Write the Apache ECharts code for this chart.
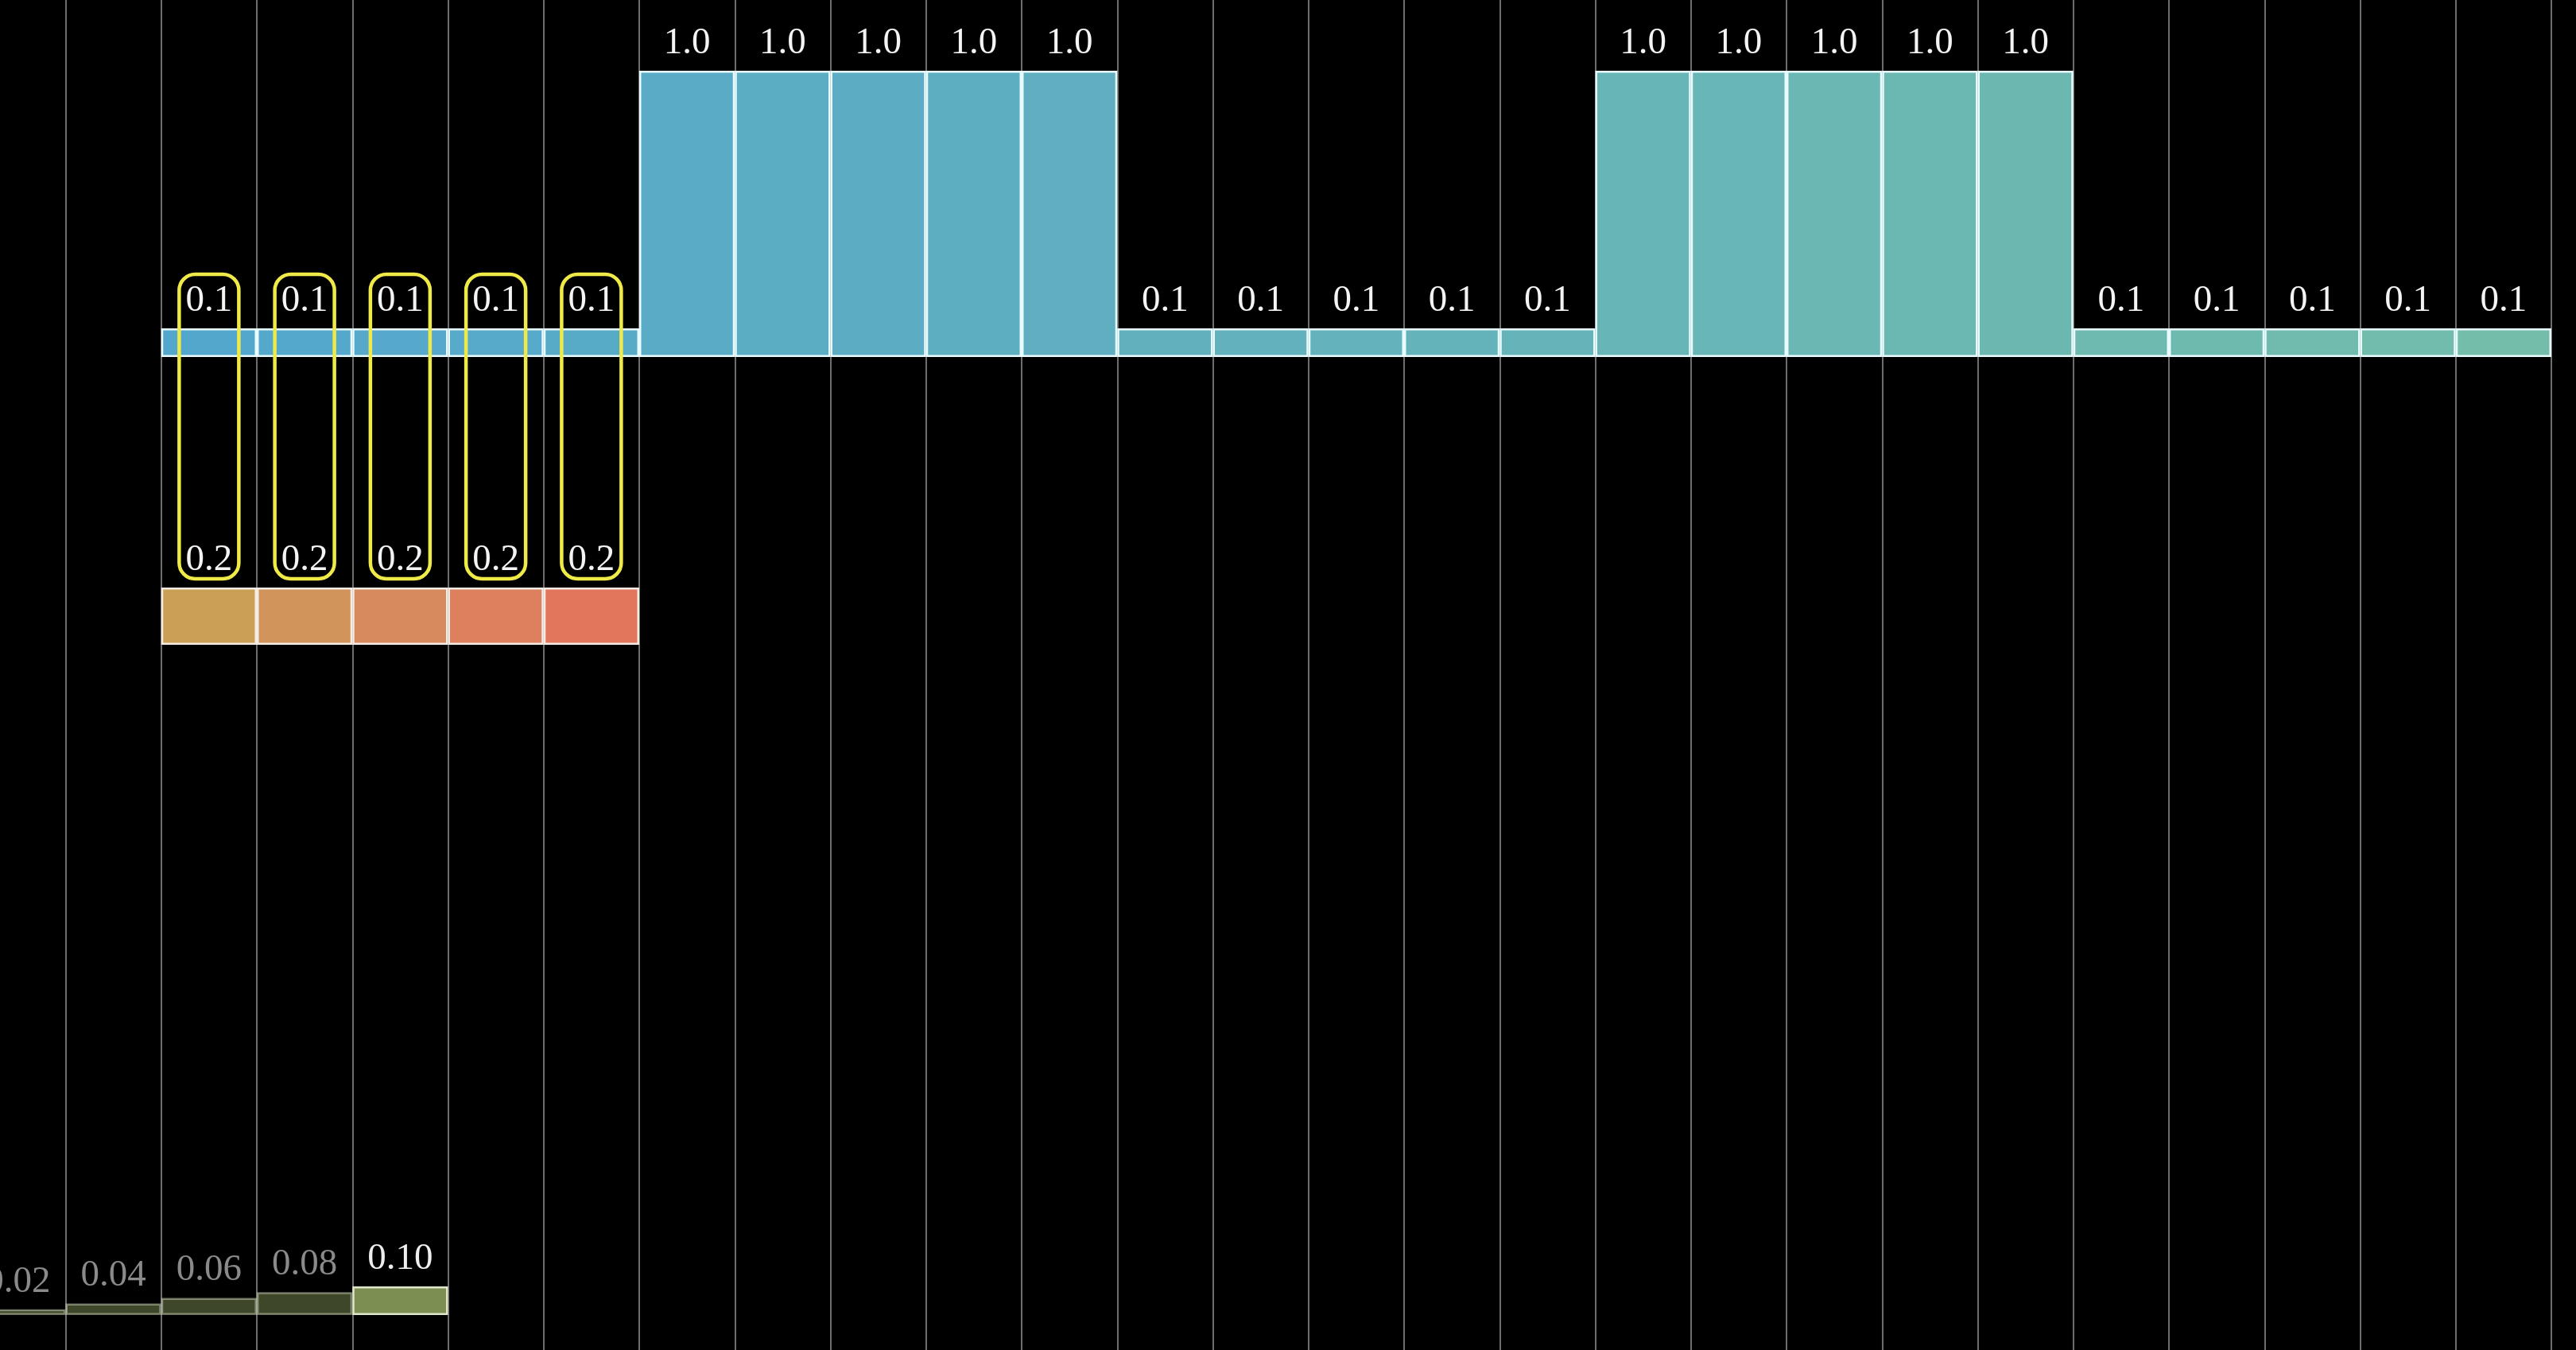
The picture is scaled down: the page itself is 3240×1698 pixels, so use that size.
<!DOCTYPE html>
<html><head><meta charset="utf-8">
<script src="https://cdn.jsdelivr.net/npm/echarts@6/dist/echarts.min.js"></script>
<style>html,body{margin:0;padding:0;background:#000;overflow:hidden}#c{width:3240px;height:1698px;}</style>
</head><body><div id="c"></div>
<script>
// ---- data ----
const columns = ['-1','0','1','2','3','4','5','6','7','8','9','10','11','12','13','14','15','16','17','18','19','20','21','22','23','24','25','26'];
const signalCols = ['1','2','3','4','5','6','7','8','9','10','11','12','13','14','15','16','17','18','19','20','21','22','23','24','25'];
const signalValues = [0.1,0.1,0.1,0.1,0.1, 1.0,1.0,1.0,1.0,1.0, 0.1,0.1,0.1,0.1,0.1, 1.0,1.0,1.0,1.0,1.0, 0.1,0.1,0.1,0.1,0.1];
const kernelCols = ['1','2','3','4','5'];
const kernelValues = [0.2,0.2,0.2,0.2,0.2];
const resultCols = ['-1','0','1','2','3'];
const resultValues = [0.02,0.04,0.06,0.08,0.10];
const pairCols = ['1','2','3','4','5'];

// ---- style ----
const COL_W = 120.25;
const GRID_LEFT = 82.5 - COL_W;
const GRID_W = COL_W * columns.length;
const SCALE_H = 360;
const FONT = 'Liberation Serif';
const FS = 47;
const kernelColors = ['#cc9f57','#d1955c','#d78a5e','#dc805d','#e2765d'];
const activeResult = 4;
function lerpColor(a, b, t) {
  const pa = [1,3,5].map(i => parseInt(a.substr(i,2),16));
  const pb = [1,3,5].map(i => parseInt(b.substr(i,2),16));
  return 'rgb(' + pa.map((v,i) => Math.round(v + (pb[i]-v)*t)).join(',') + ')';
}
const blueStart = '#53a7cd', blueEnd = '#73bdaa';

const chart = echarts.init(document.getElementById('c'), null, {renderer:'canvas'});

function grid(top, height) { return {left: GRID_LEFT, width: GRID_W, top: top, height: height, containLabel:false, outerBoundsMode:'none'}; }
function xAx(gi, showSplit) {
  return {type:'category', gridIndex: gi, data: columns, boundaryGap: true,
    axisLine:{show:false}, axisTick:{show:false}, axisLabel:{show:false},
    splitLine:{show: showSplit, interval: 0, lineStyle:{color:'#6e6e6e', width:2}}};
}
function yAx(gi) { return {type:'value', gridIndex: gi, min:0, max:1, show:false}; }

const labelBase = {show:true, position:'top', distance:11, fontFamily:FONT, fontSize:FS, color:'#f4f4f4'};

const signalData = signalCols.map((c,i) => ({
  value:[c, signalValues[i]],
  itemStyle:{color: lerpColor(blueStart, blueEnd, i/(signalCols.length-1))}
}));
const kernelData = kernelCols.map((c,i) => ({
  value:[c, kernelValues[i]],
  itemStyle:{color: kernelColors[i]}
}));
const resultData = resultCols.map((c,i) => {
  const on = i === activeResult;
  return {
    value:[c, resultValues[i]],
    itemStyle:{color: on ? '#7c8e52' : 'rgba(124,142,82,0.5)', borderColor: on ? '#dfe6c8' : 'rgba(230,240,210,0.45)'},
    label:{color: on ? '#eeeeee' : '#8a8a8a'}
  };
});

chart.setOption({
  backgroundColor:'#000',
  animation:false,
  grid:[grid(0,1698), grid(89,SCALE_H), grid(811-SCALE_H,SCALE_H), grid(1654-SCALE_H,SCALE_H)],
  xAxis:[xAx(0,true), xAx(1,false), xAx(2,false), xAx(3,false)],
  yAxis:[yAx(0), yAx(1), yAx(2), yAx(3)],
  series:[
    {type:'bar', name:'signal', xAxisIndex:1, yAxisIndex:1, barWidth:'100%', data:signalData,
      itemStyle:{borderColor:'#e8fbff', borderWidth:2.5},
      label:Object.assign({}, labelBase, {formatter: p => p.value[1].toFixed(1)}), z:3},
    {type:'bar', name:'kernel', xAxisIndex:2, yAxisIndex:2, barWidth:'100%', data:kernelData,
      itemStyle:{borderColor:'#f4ece4', borderWidth:2.5},
      label:Object.assign({}, labelBase, {formatter: p => p.value[1].toFixed(1)}), z:3},
    {type:'bar', name:'result', xAxisIndex:3, yAxisIndex:3, barWidth:'100%', data:resultData,
      itemStyle:{borderWidth:2.5},
      label:Object.assign({}, labelBase, {formatter: p => p.value[1].toFixed(2)}), z:3},
    {type:'custom', name:'pairs', xAxisIndex:1, yAxisIndex:1, clip:false, z:5,
      data: pairCols.map((c,i) => [c, signalValues[signalCols.indexOf(c)], kernelValues[i]]),
      encode:{x:0, y:1},
      renderItem: function(params, api) {
        const p = api.coord([api.value(0), api.value(1)]);
        return {type:'rect', shape:{x:p[0]-37.5, y:p[1]-68, width:75, height:383, r:20},
          style:{fill:'none', stroke:'#f0ea48', lineWidth:4.5}};
      }}
  ]
});
</script></body></html>
